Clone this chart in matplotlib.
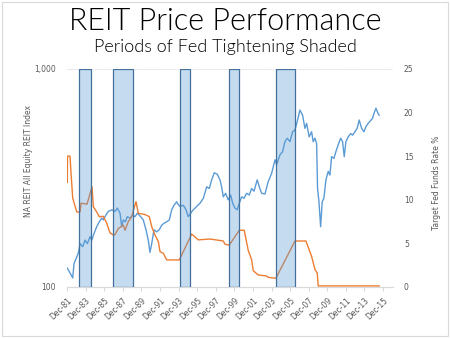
import matplotlib

matplotlib.use("Agg")
import matplotlib.pyplot as plt  # noqa: E402
from matplotlib.patches import Rectangle  # noqa: E402
from matplotlib.ticker import FixedLocator, NullLocator  # noqa: E402

# REIT index (decimal year, index level)
reit_years = [1981.95, 1982.24, 1982.53, 1982.67, 1982.96, 1983.13, 1983.32, 1983.61,
              1983.86, 1984.10, 1984.39, 1984.58, 1984.82, 1985.11, 1985.39, 1985.65,
              1985.82, 1986.11, 1986.36, 1986.73, 1987.08, 1987.33, 1987.62, 1987.80,
              1987.97, 1988.19, 1988.40, 1988.69, 1988.98, 1989.23, 1989.48, 1989.84,
              1990.12, 1990.41, 1990.66, 1990.84, 1991.03, 1991.27, 1991.56, 1991.84,
              1992.10, 1992.35, 1992.64, 1992.92, 1993.18, 1993.43, 1993.72, 1993.78,
              1994.07, 1994.43, 1994.72, 1994.96, 1995.22, 1995.50, 1995.87, 1996.22,
              1996.58, 1996.94, 1997.22, 1997.48, 1997.76, 1998.08, 1998.37, 1998.55,
              1998.73, 1998.98, 1999.26, 1999.52, 1999.74, 1999.98, 2000.23, 2000.45,
              2000.70, 2000.95, 2001.24, 2001.52, 2001.78, 2002.03, 2002.38, 2002.60,
              2002.85, 2003.21, 2003.56, 2003.93, 2004.29, 2004.47, 2004.83, 2005.11,
              2005.36, 2005.61, 2005.90, 2006.19, 2006.44, 2006.68, 2006.97, 2007.26,
              2007.51, 2007.69, 2007.97, 2008.23, 2008.40, 2008.59, 2008.77, 2008.87,
              2009.02, 2009.20, 2009.37, 2009.55, 2009.77, 2010.02, 2010.20, 2010.38,
              2010.63, 2010.84, 2011.09, 2011.35, 2011.56, 2011.74, 2011.92, 2012.17,
              2012.43, 2012.64, 2012.89, 2013.14, 2013.35, 2013.61, 2013.86, 2014.07,
              2014.32, 2014.58, 2014.79, 2014.93, 2015.15, 2015.39, 2015.50]
reit_index = [122, 116, 110, 128, 137, 143, 158, 153,
              164, 158, 170, 164, 176, 189, 199, 207,
              203, 214, 222, 226, 222, 230, 218, 189,
              203, 199, 210, 207, 214, 210, 218, 210,
              203, 183, 164, 144, 158, 183, 179, 183,
              192, 196, 199, 203, 226, 237, 246, 242,
              234, 237, 226, 210, 218, 226, 234, 242,
              255, 288, 283, 310, 334, 329, 310, 288,
              259, 269, 251, 264, 242, 230, 226, 242,
              259, 255, 269, 264, 283, 275, 310, 288,
              269, 267, 304, 332, 383, 364, 404, 417,
              464, 481, 464, 515, 525, 573, 648, 614,
              534, 563, 488, 515, 464, 481, 454, 283,
              246, 189, 246, 255, 310, 339, 326, 396,
              389, 417, 449, 481, 464, 396, 464, 488,
              505, 497, 515, 535, 583, 534, 515, 543,
              563, 580, 594, 624, 660, 624, 614]

# Target fed funds rate (decimal year, %)
fed_years = [1981.95, 1981.97, 1982.24, 1982.35, 1982.53, 1982.96, 1983.32, 1983.43,
             1984.07, 1984.61, 1984.75, 1985.11, 1985.39, 1985.82, 1986.19, 1986.54,
             1986.9, 1987.08, 1987.44, 1987.97, 1988.16, 1988.51, 1988.88, 1989.12,
             1989.34, 1989.59, 1990.31, 1990.77, 1991.03, 1991.38, 1991.74, 1991.92,
             1992.28, 1992.64, 1994.0, 1995.33, 1995.5, 1996.04, 1997.3, 1998.73,
             1998.91, 1999.37, 2000.45, 2000.98, 2001.41, 2001.78, 2001.95, 2002.49,
             2003.39, 2003.56, 2004.39, 2006.44, 2007.62, 2008.23, 2008.59, 2008.83,
             2008.94, 2015.5]
fed_rate = [12.0, 15.0, 15.0, 13.0, 10.2, 8.6, 8.6, 9.6,
            9.5, 11.5, 9.2, 8.6, 8.06, 8.1, 7.3, 6.2,
            5.96, 6.0, 6.7, 7.1, 6.5, 7.5, 8.06, 9.0,
            9.78, 8.45, 8.3, 8.06, 6.9, 5.96, 5.2, 4.05,
            3.86, 3.1, 3.1, 6.07, 5.9, 5.4, 5.5, 5.27,
            4.9, 4.8, 6.5, 6.5, 4.2, 3.1, 1.87, 1.37,
            1.26, 1.1, 1.0, 5.27, 5.27, 3.5, 2.0, 1.6,
            0.12, 0.12]

# Fed tightening periods (start, end)
tight_start = [1983.21, 1986.9, 1994.07, 1999.37, 2004.4]
tight_end = [1984.53, 1989.05, 1995.18, 2000.45, 2006.44]

tick_years = list(range(1981, 2016, 2))
tick_labels = [f"Dec-{y % 100:02d}" for y in tick_years]

GRAY = "#595959"
BLUE = "#5b9bd5"
ORANGE = "#ed7d31"

fig = plt.figure(figsize=(4.5, 3.38), dpi=100)
fig.patches.append(Rectangle((0.005, 0.005), 0.99, 0.99, transform=fig.transFigure,
                             fill=False, edgecolor="#d9d9d9", linewidth=0.8))

fig.text(0.5, 0.935, "REIT Price Performance", ha="center", va="center",
         fontsize=22, family="Lato", fontweight=300, color="#000000")
fig.text(0.5, 0.862, "Periods of Fed Tightening Shaded", ha="center", va="center",
         fontsize=13, family="Lato", fontweight=300, color="#000000")

ax = fig.add_axes([0.149, 0.151, 0.724, 0.645])
ax2 = ax.twinx()

ax.plot(reit_years, reit_index, color=BLUE, lw=1.0, zorder=2)
ax.set_yscale("log")
ax.set_ylim(100, 1000)
ax.yaxis.set_major_locator(FixedLocator([100, 1000]))
ax.yaxis.set_minor_locator(NullLocator())
ax.set_yticklabels(["100", "1,000"])
ax.set_xlim(1981.92, 2016.97)
ax.set_xticks([y + 0.92 for y in tick_years])
ax.set_xticklabels(tick_labels, rotation=45, ha="right", rotation_mode="anchor")
ax.grid(axis="y", color="#d9d9d9", lw=0.6, ls=(0, (2, 1)))
ax.set_axisbelow(True)
ax.set_ylabel("NA REIT All Equity REIT Index", fontsize=5.5, color=GRAY)
ax.yaxis.set_label_coords(-0.105, 0.58)

ax2.plot(fed_years, fed_rate, color=ORANGE, lw=1.0, zorder=2)
ax2.set_ylim(0, 25)
ax2.set_yticks([0, 5, 10, 15, 20, 25])
ax2.set_ylabel("Target Fed Funds Rate %", fontsize=5.5, color=GRAY)
ax2.yaxis.set_label_coords(1.12, 0.48)

for s, e in zip(tight_start, tight_end):
    ax2.axvspan(s, e, ymin=0, ymax=1, facecolor=BLUE, alpha=0.35, zorder=3)
    ax2.axvspan(s, e, ymin=0, ymax=1, facecolor="none", edgecolor="#41719c",
                lw=0.9, zorder=4)

for a in (ax, ax2):
    for side in ("top", "left", "right"):
        a.spines[side].set_visible(False)
    a.spines["bottom"].set_color("#d9d9d9")
    a.tick_params(labelsize=5.5, labelcolor=GRAY, length=0)
ax.tick_params(axis="x", length=3, color="#d9d9d9", direction="out")
ax.tick_params(axis="y", pad=8)
ax2.tick_params(axis="y", pad=8)

fig.savefig("out.png", dpi=100)
